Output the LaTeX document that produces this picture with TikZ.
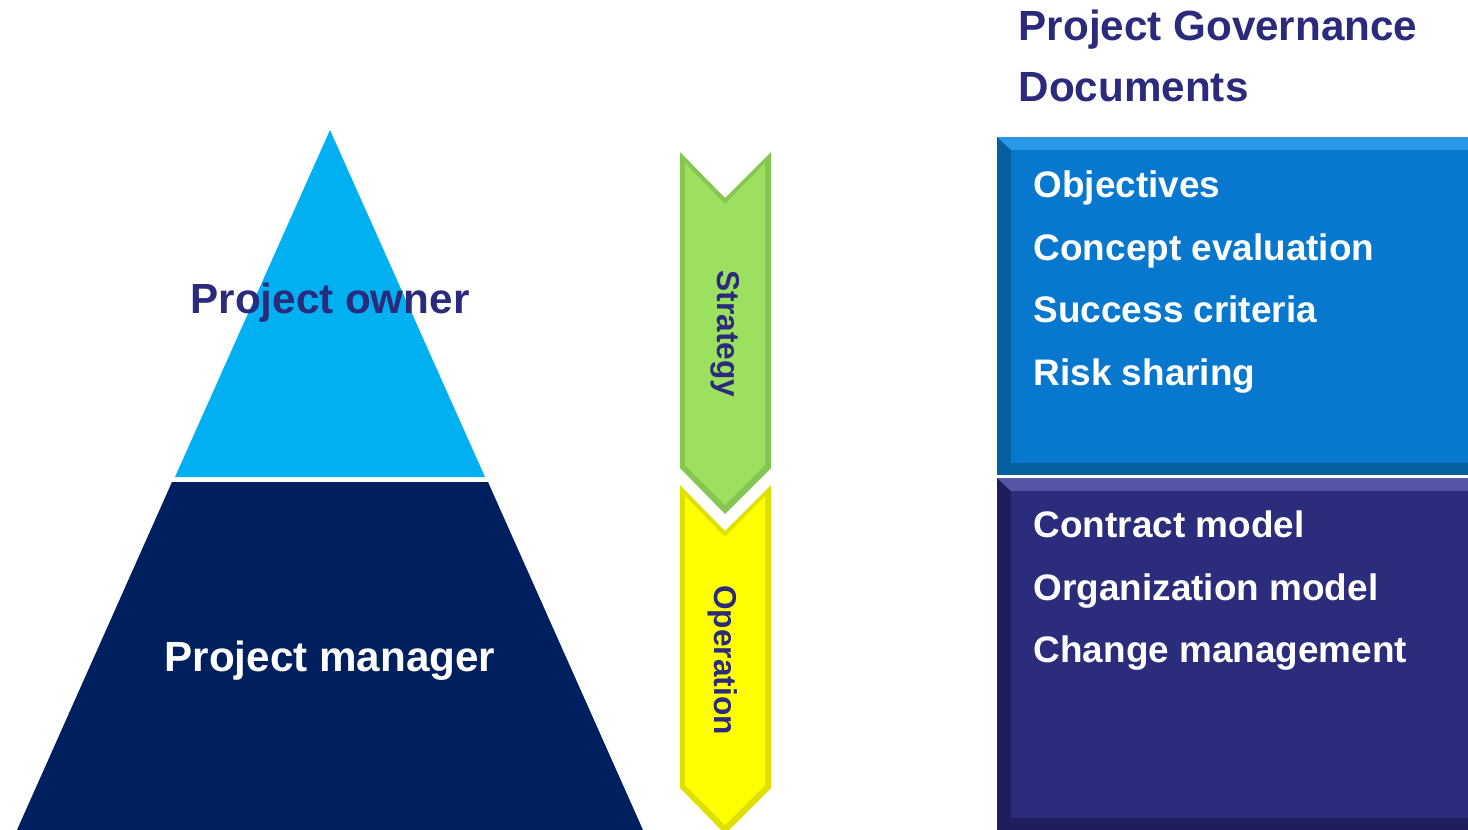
\documentclass[tikz,border=0pt]{standalone}
\usepackage{fontspec}
\setmainfont{Liberation Sans}
\usetikzlibrary{positioning}

\definecolor{navytext}{HTML}{2B2A7D}
\definecolor{ownerblue}{HTML}{00B0F0}
\definecolor{managerblue}{HTML}{001F5F}
\definecolor{goalblue}{HTML}{0778CE}
\definecolor{goallight}{HTML}{2A98E8}
\definecolor{goaldark}{HTML}{05609F}
\definecolor{modelblue}{HTML}{2C2C7C}
\definecolor{modellight}{HTML}{5656A8}
\definecolor{modeldark}{HTML}{1E1E5E}
\definecolor{stratgreen}{HTML}{9BE05E}
\definecolor{stratdark}{HTML}{86C650}
\definecolor{operyellow}{HTML}{FFFF00}
\definecolor{operdark}{HTML}{E0E000}

\tikzset{
    level/.style={font=\fontsize{12}{14}\selectfont\bfseries},
    title/.style={font=\fontsize{12}{14}\selectfont\bfseries,text=navytext,anchor=base west,inner sep=0pt},
    item/.style={font=\fontsize{10.5}{12}\selectfont\bfseries,text=white,anchor=base west,inner sep=0pt},
    phase/.style={font=\fontsize{9}{10}\selectfont\bfseries,text=navytext,rotate=-90,inner sep=0pt}
}

\begin{document}
\begin{tikzpicture}[x=0.01cm,y=-0.01cm]
    \useasboundingbox[fill=white] (0,0) rectangle (1468,830);

    %%%% Pyramid =====================================
    \fill[ownerblue] (330,130) -- (485,477) -- (175,477) -- cycle;
    \fill[managerblue] (172,482) -- (488,482) -- (643,830) -- (17,830) -- cycle;
    \node[level,text=navytext,anchor=base] (owner) at (330,313) {Project owner};
    \node[level,text=white,anchor=base] (manager) at (330,671) {Project manager};

    %%%% Phase chevrons ==============================
    % Operation
    \fill[operdark] (680,485) -- (725,531) -- (771,485) -- (771,788) -- (725,834) -- (680,788) -- cycle;
    \fill[operyellow] (685,496) -- (725,537) -- (765,496) -- (765,785) -- (725,825) -- (685,785) -- cycle;
    % Strategy
    \draw[white,line width=2pt,line join=miter] (680,466) -- (725,512) -- (771,466);
    \fill[stratdark] (680,152) -- (725,198) -- (771,152) -- (771,468) -- (725,514) -- (680,468) -- cycle;
    \fill[stratgreen] (685,163) -- (725,204) -- (765,163) -- (765,465) -- (725,505) -- (685,465) -- cycle;
    \node[phase] (strategy) at (725,334) {Strategy};
    \node[phase] (operation) at (723,660) {Operation};

    %%%% Governance documents ========================
    \node[title] (gov1) at (1018,40) {Project Governance};
    \node[title] (gov2) at (1018,101) {Documents};

    % Goals box
    \fill[goaldark] (997,137) rectangle (1468,475);
    \fill[goallight] (997,137) -- (1468,137) -- (1468,150) -- (1011,150) -- cycle;
    \fill[goalblue] (1011,150) rectangle (1468,463);
    \node[item] (obj) at (1033,197) {Objectives};
    \node[item] (concept) at (1033,260) {Concept evaluation};
    \node[item] (success) at (1033,322) {Success criteria};
    \node[item] (risk) at (1033,385) {Risk sharing};

    % Models box
    \fill[modeldark] (997,478) rectangle (1468,830);
    \fill[modellight] (997,478) -- (1468,478) -- (1468,491) -- (1011,491) -- cycle;
    \fill[modelblue] (1011,491) rectangle (1468,818);
    \node[item] (contract) at (1033,537) {Contract model};
    \node[item] (organization) at (1033,600) {Organization model};
    \node[item] (change) at (1033,662) {Change management};
\end{tikzpicture}
\end{document}
